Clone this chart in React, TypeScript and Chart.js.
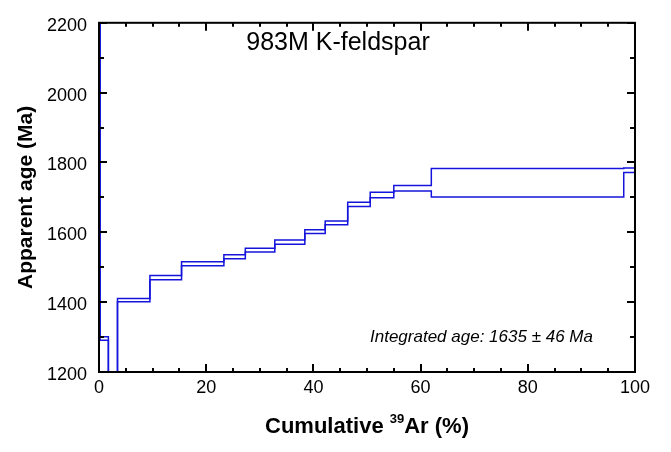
import React, { useEffect, useRef } from 'react';
import { Chart, registerables } from 'chart.js';

Chart.register(...registerables);

// Cumulative 39Ar (%) boundaries of each heating step
const stepEdges = [0, 0.2, 1.75, 3.45, 9.5, 15.4, 23.3, 27.3, 32.8, 38.4, 42.2, 46.4, 50.6, 55.0, 62.0, 97.9, 100];
// Apparent age (Ma) of each step
const stepAges = [2600, 1296, 1150, 1406, 1470, 1510, 1530, 1549, 1572, 1602, 1627, 1680, 1707, 1726, 1742, 1778];
// 1-sigma error (Ma) of each step
const stepErrors = [40, 5, 10, 4.6, 6, 6, 6, 5.6, 6, 5.6, 5.6, 6.4, 8, 8, 41, 6.5];

const xMin = 0;
const xMax = 100;
const yMin = 1200;
const yMax = 2200;
const xMajor = 20;
const xMinor = 5;
const yMajor = 200;
const yMinor = 100;

const titleText = '983M K-feldspar';
const yTitle = 'Apparent age (Ma)';
const xTitlePre = 'Cumulative ';
const xTitleSup = '39';
const xTitlePost = 'Ar (%)';
const noteText = 'Integrated age: 1635 \u00b1 46 Ma';

const FONT = '"Liberation Sans", Arial, Helvetica, sans-serif';
const LINE = '#1414dc';

function envelope(sign: number) {
  const pts: { x: number; y: number }[] = [];
  for (let i = 0; i < stepAges.length; i++) {
    const v = stepAges[i] + sign * stepErrors[i];
    pts.push({ x: stepEdges[i], y: v });
    pts.push({ x: stepEdges[i + 1], y: v });
  }
  return pts;
}

const framePlugin = {
  id: 'framePlugin',
  afterDraw(chart: any) {
    const { ctx, chartArea, scales } = chart;
    const { left, right, top, bottom } = chartArea;
    const xs = scales.x;
    const ys = scales.y;
    ctx.save();
    ctx.strokeStyle = '#000';
    ctx.lineWidth = 2;
    ctx.beginPath();
    for (let v = xMin; v <= xMax + 1e-9; v += xMinor) {
      const px = Math.round(xs.getPixelForValue(v));
      const len = v % xMajor === 0 ? 8 : 4;
      ctx.moveTo(px, bottom);
      ctx.lineTo(px, bottom - len);
      ctx.moveTo(px, top);
      ctx.lineTo(px, top + len);
    }
    for (let v = yMin; v <= yMax + 1e-9; v += yMinor) {
      const py = Math.round(ys.getPixelForValue(v));
      const len = v % yMajor === 0 ? 8 : 5;
      ctx.moveTo(left, py);
      ctx.lineTo(left + len, py);
      ctx.moveTo(right, py);
      ctx.lineTo(right - len, py);
    }
    ctx.stroke();
    ctx.strokeRect(left, top, right - left, bottom - top);

    // title
    ctx.fillStyle = '#000';
    ctx.font = `25px ${FONT}`;
    ctx.textAlign = 'center';
    ctx.textBaseline = 'alphabetic';
    ctx.fillText(titleText, (left + right) / 2 - 29, 50);

    // integrated age note
    ctx.font = `italic 17px ${FONT}`;
    ctx.textAlign = 'left';
    ctx.fillText(noteText, 370, 342);

    // y title
    ctx.save();
    ctx.font = `bold 21px ${FONT}`;
    ctx.translate(32, (top + bottom) / 2);
    ctx.rotate(-Math.PI / 2);
    ctx.textAlign = 'center';
    ctx.fillText(yTitle, 0, 0);
    ctx.restore();

    // x title with superscript
    const big = `bold 22px ${FONT}`;
    const small = `bold 13px ${FONT}`;
    ctx.font = big;
    const w1 = ctx.measureText(xTitlePre).width;
    const w3 = ctx.measureText(xTitlePost).width;
    ctx.font = small;
    const w2 = ctx.measureText(xTitleSup).width;
    const total = w1 + w2 + w3;
    let x0 = (left + right) / 2 - total / 2;
    const base = 433;
    ctx.textAlign = 'left';
    ctx.font = big;
    ctx.fillText(xTitlePre, x0, base);
    x0 += w1;
    ctx.font = small;
    ctx.fillText(xTitleSup, x0, base - 10);
    x0 += w2;
    ctx.font = big;
    ctx.fillText(xTitlePost, x0, base);
    ctx.restore();
  },
};

export default function App() {
  const ref = useRef<HTMLCanvasElement | null>(null);
  useEffect(() => {
    if (!ref.current) return;
    const chart = new Chart(ref.current, {
      type: 'line',
      data: {
        datasets: [
          {
            data: envelope(1),
            borderColor: LINE,
            borderWidth: 1.5,
            pointRadius: 0,
            fill: false,
            tension: 0,
          },
          {
            data: envelope(-1),
            borderColor: LINE,
            borderWidth: 1.5,
            pointRadius: 0,
            fill: false,
            tension: 0,
          },
        ],
      },
      options: {
        responsive: false,
        animation: false,
        events: [],
        layout: { padding: { top: 14, right: 36, left: 0, bottom: 0 } },
        plugins: {
          legend: { display: false },
          tooltip: { enabled: false },
          title: { display: false },
        },
        scales: {
          x: {
            type: 'linear',
            min: xMin,
            max: xMax,
            grid: { display: false, drawTicks: false },
            border: { display: false },
            ticks: {
              stepSize: xMajor,
              color: '#000',
              font: { family: FONT, size: 18 },
              padding: 5,
              maxRotation: 0,
              callback: (v: any) => String(v),
            },
            afterFit: (s: any) => {
              s.height = 80;
            },
          },
          y: {
            type: 'linear',
            min: yMin,
            max: yMax,
            grid: { display: false, drawTicks: false },
            border: { display: false },
            ticks: {
              stepSize: yMajor,
              color: '#000',
              font: { family: FONT, size: 18 },
              padding: 12,
              labelOffset: 3,
              callback: (v: any) => String(v),
            },
            afterFit: (s: any) => {
              s.width = 99;
            },
          },
        },
      },
      plugins: [framePlugin],
    } as any);
    return () => chart.destroy();
  }, []);
  return (
    <div style={{ position: 'fixed', left: 0, top: 0, width: 671, height: 452, background: '#fff' }}>
      <canvas ref={ref} width={671} height={452} style={{ width: 671, height: 452 }} />
    </div>
  );
}
